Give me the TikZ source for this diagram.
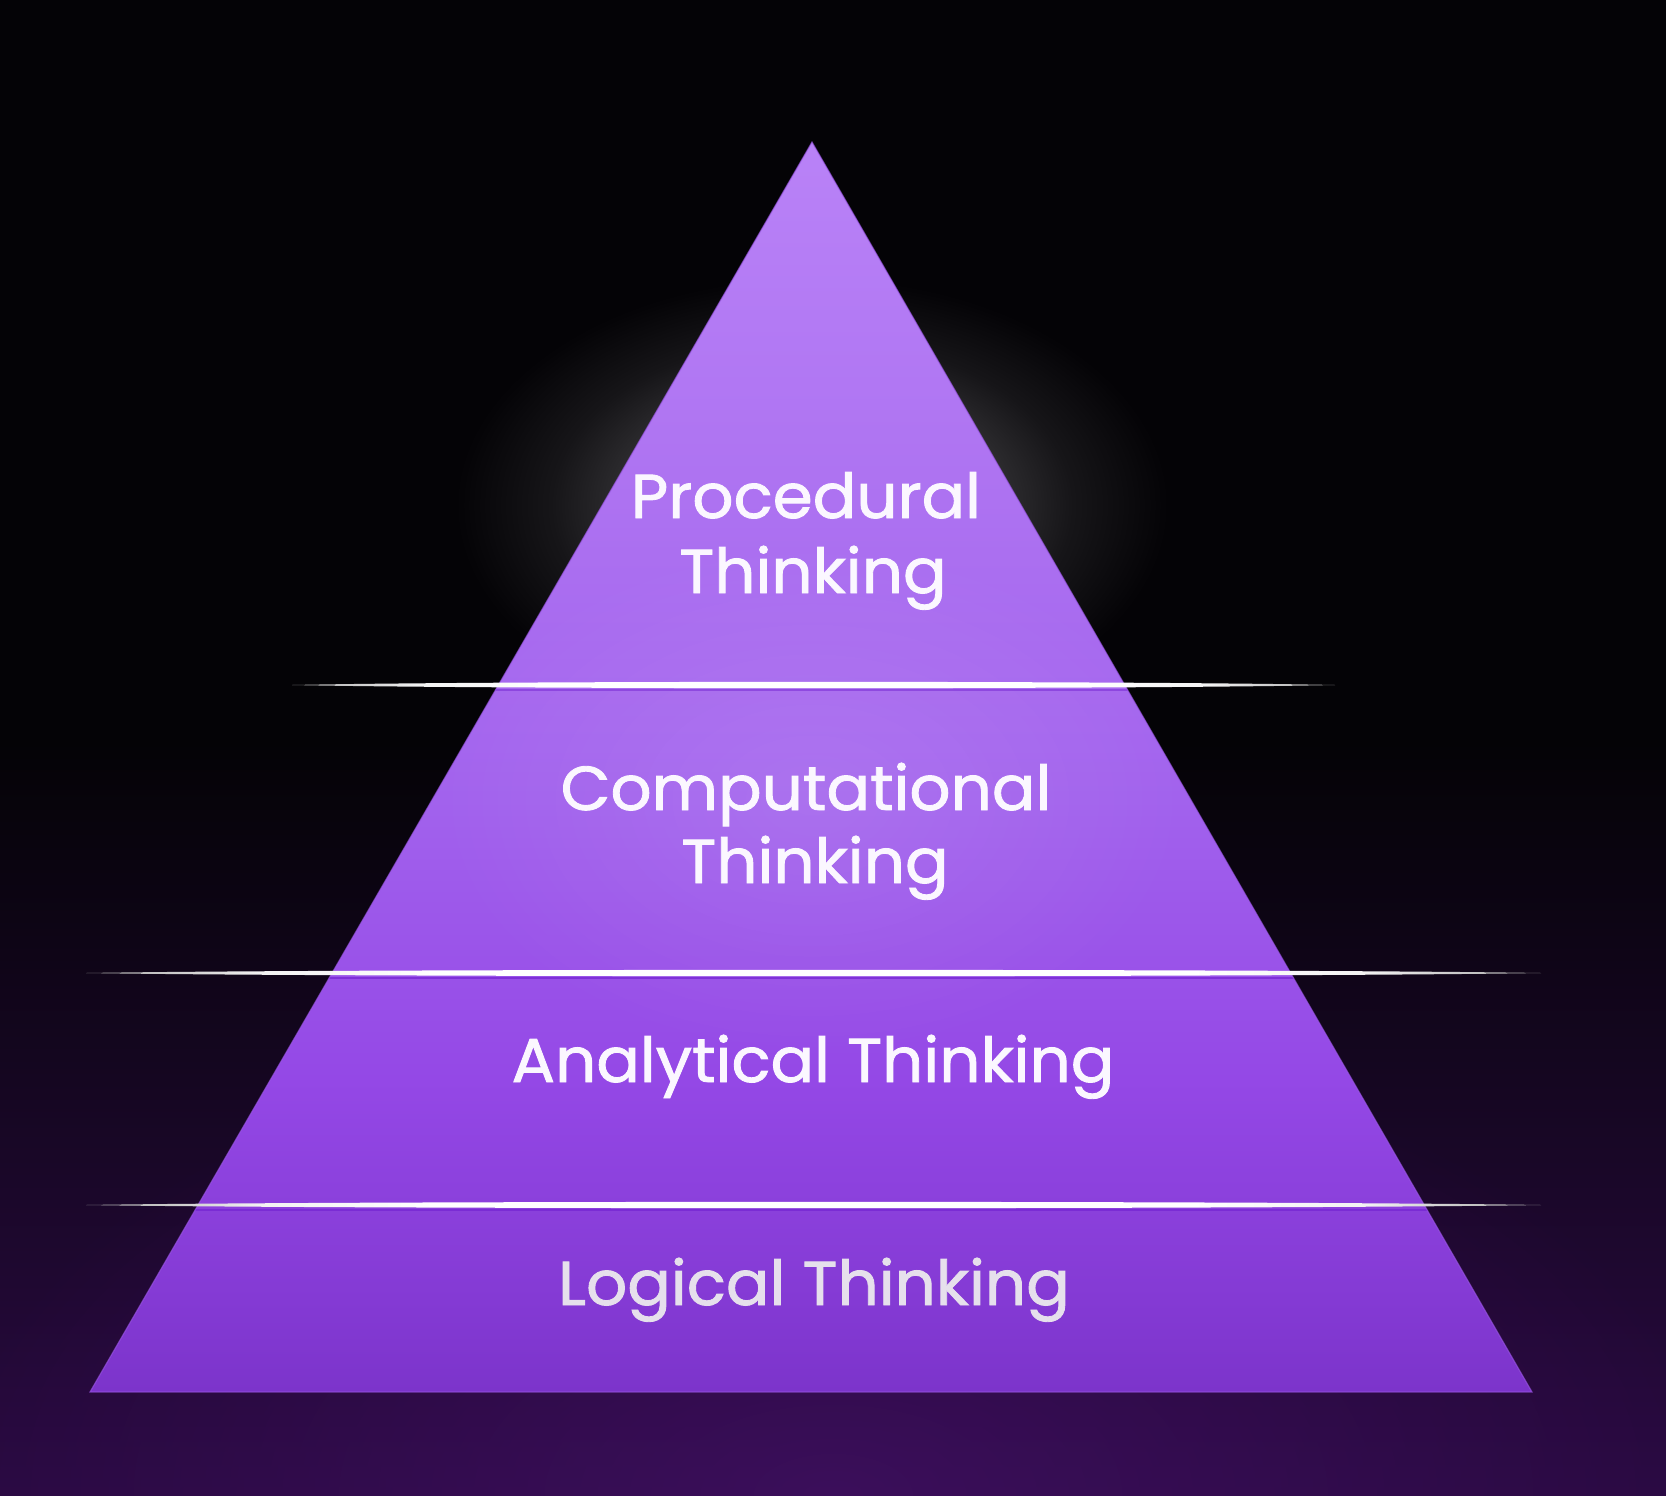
\documentclass[tikz,border=0pt]{standalone}
\usepackage{fontspec}
\newfontfamily\pyrfont{Poppins}[FakeBold=1.4, FakeStretch=1.04]
\usetikzlibrary{fadings}
\definecolor{bgtop}{HTML}{040306}
\definecolor{bgbot}{HTML}{2A0A42}
\definecolor{bgglow}{HTML}{4A1270}
\definecolor{pA}{HTML}{B982F7}
\definecolor{pB}{HTML}{AD72F1}
\definecolor{pC}{HTML}{A262ED}
\definecolor{pD}{HTML}{9448E6}
\definecolor{pE}{HTML}{843AD4}
\definecolor{pF}{HTML}{7C34CB}
\definecolor{edgecol}{HTML}{9A56E4}
\definecolor{undercol}{HTML}{7424D2}
\definecolor{txtwhite}{HTML}{FBF7FF}
\definecolor{txtgray}{HTML}{E6E0EC}
\tikzfading[name=softglow, inner color=transparent!0, outer color=transparent!100]
\pgfdeclareradialshading{halosh}{\pgfpointorigin}{color(0bp)=(white); color(12bp)=(white); color(18bp)=(white!40!black); color(25bp)=(black); color(50bp)=(black)}
\pgfdeclarefading{halo}{\pgfuseshading{halosh}}
\pgfdeclareverticalshading{pyrshade}{100bp}{color(0bp)=(pF); color(25bp)=(pF); color(28.7bp)=(pE); color(37.5bp)=(pD); color(48.7bp)=(pC); color(60.7bp)=(pB); color(75bp)=(pA); color(100bp)=(pA)}
\pgfdeclarehorizontalshading{lineshade}{100bp}{color(0bp)=(gray!70); color(25bp)=(gray!70); color(31bp)=(white!90!gray); color(37bp)=(white); color(63bp)=(white); color(69bp)=(white!90!gray); color(75bp)=(gray!70); color(100bp)=(gray!70)}
\tikzset{
  lbl/.style={anchor=base, inner sep=0pt, text=txtwhite, font=\pyrfont\fontsize{62}{74}\selectfont},
  lblgray/.style={lbl, text=txtgray},
  divider/.style={shading=lineshade},
}
\begin{document}
\begin{tikzpicture}[x=1pt,y=-1pt]
\useasboundingbox (0,0) rectangle (1666,1496);
% background
\fill[bgtop] (0,0) rectangle (1666,741);
\shade[top color=bgtop, bottom color=bgbot] (0,740) rectangle (1666,1496);
\fill[bgglow, opacity=0.55, path fading=softglow] (833,1496) ellipse (900 and 480);
% halo behind the apex part
\fill[white, opacity=0.19, path fading=halo] (812,505) ellipse (360 and 230);
% pyramid
\coordinate (apex) at (812,142);
\coordinate (bl) at (90,1392);
\coordinate (br) at (1532,1392);
\shade[shading=pyrshade] (apex) -- (br) -- (bl) -- cycle;
\begin{scope}
  \clip (apex) -- (br) -- (bl) -- cycle;
  \fill[white, opacity=0.10, path fading=softglow] (812,800) ellipse (380 and 260);
  \draw[undercol, line width=2, opacity=0.7] (0,978) -- (1666,978);
  \draw[undercol, line width=2, opacity=0.7] (0,1210) -- (1666,1210);
  \draw[undercol, line width=2, opacity=0.5] (0,690) -- (1666,690);
\end{scope}
\draw[edgecol, line width=1.2, opacity=0.6] (apex) -- (br) -- (bl) -- cycle;
% dividers
\coordinate (d1l) at (292,685);  \coordinate (d1r) at (1335,685);
\coordinate (d2l) at (86,973);   \coordinate (d2r) at (1541,973);
\coordinate (d3l) at (86,1205);  \coordinate (d3r) at (1541,1205);
\shade[divider] (d1l) .. controls ([xshift=200,yshift=-4.2]d1l) and ([xshift=-200,yshift=-4.2]d1r) .. (d1r)
  .. controls ([xshift=-200,yshift=4.2]d1r) and ([xshift=200,yshift=4.2]d1l) .. (d1l) -- cycle;
\shade[divider] (d2l) .. controls ([xshift=250,yshift=-4.2]d2l) and ([xshift=-250,yshift=-4.2]d2r) .. (d2r)
  .. controls ([xshift=-250,yshift=4.2]d2r) and ([xshift=250,yshift=4.2]d2l) .. (d2l) -- cycle;
\shade[divider] (d3l) .. controls ([xshift=250,yshift=-4.2]d3l) and ([xshift=-250,yshift=-4.2]d3r) .. (d3r)
  .. controls ([xshift=-250,yshift=4.2]d3r) and ([xshift=250,yshift=4.2]d3l) .. (d3l) -- cycle;
% labels
\node[lbl] (proc1) at (806,518) {Procedural};
\node[lbl] (proc2) at (813,593) {Thinking};
\node[lbl] (comp1) at (806,810) {Computational};
\node[lbl] (comp2) at (815,883) {Thinking};
\node[lbl] (anal) at (813,1082) {Analytical Thinking};
\node[lblgray] (logi) at (814,1305) {Logical Thinking};
\end{tikzpicture}
\end{document}
